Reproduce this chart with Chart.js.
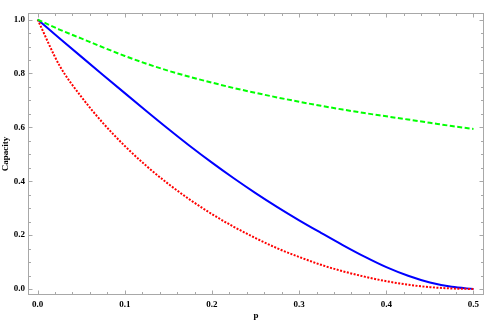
<!DOCTYPE html>
<html>
<head>
<meta charset="utf-8">
<script src="https://cdn.jsdelivr.net/npm/chart.js@4"></script>
<style>
  html, body { margin: 0; padding: 0; background: #fff; }
  #wrap { width: 498px; height: 322px; }
</style>
</head>
<body>
<div id="wrap"><canvas id="chart"></canvas></div>
<script>
// values
const P     = [0, 0.025, 0.05, 0.075, 0.1, 0.125, 0.15, 0.175, 0.2, 0.225, 0.25, 0.275, 0.3, 0.325, 0.35, 0.375, 0.4, 0.425, 0.45, 0.475, 0.5];
const BLUE  = [1, 0.931, 0.8625, 0.7945, 0.727, 0.66, 0.594, 0.53, 0.469, 0.411, 0.356, 0.304, 0.255, 0.2085, 0.163, 0.12, 0.081, 0.049, 0.024, 0.008, 0];
const RED   = [1, 0.83, 0.714, 0.616, 0.531, 0.456, 0.39, 0.331, 0.278, 0.231, 0.189, 0.151, 0.119, 0.09, 0.066, 0.046, 0.029, 0.016, 0.007, 0.002, 0];
const GREEN = [1, 0.963, 0.93, 0.897, 0.865, 0.836, 0.81, 0.787, 0.766, 0.746, 0.728, 0.711, 0.695, 0.68, 0.666, 0.653, 0.641, 0.629, 0.617, 0.605, 0.594];

const X_TICKS = [0, 0.1, 0.2, 0.3, 0.4, 0.5];
const Y_TICKS = [0, 0.2, 0.4, 0.6, 0.8, 1.0];

const pts = ys => P.map((p, i) => ({ x: p, y: ys[i] }));
const FONT = "'Liberation Serif', 'DejaVu Serif', serif";

// Mathematica-style frame with inward ticks on all four sides + axis labels
const framePlugin = {
    id: "frame",
    beforeDatasetsDraw(chart) {
        const { ctx, chartArea: a, scales: { x, y } } = chart;
        const L = Math.round(a.left) - 0.5, R = Math.round(a.right) + 0.5;
        const T = Math.round(a.top) - 0.5, B = Math.round(a.bottom) + 0.5;
        ctx.save();
        ctx.strokeStyle = "#a8a8a8";
        ctx.lineWidth = 1;
        ctx.strokeRect(L, T, R - L, B - T);
        ctx.beginPath();
        for (let i = 0; i <= 25; i++) {
            const v = i * 0.02;
            const len = (i % 5 === 0) ? 4 : 2.5;
            const px = Math.round(x.getPixelForValue(v)) + 0.5;
            ctx.moveTo(px, B); ctx.lineTo(px, B - len);
            ctx.moveTo(px, T); ctx.lineTo(px, T + len);
        }
        for (let i = 0; i <= 20; i++) {
            const v = i * 0.05;
            const len = (i % 4 === 0) ? 4 : 2.5;
            const py = Math.round(y.getPixelForValue(v)) + 0.5;
            ctx.moveTo(L, py); ctx.lineTo(L + len, py);
            ctx.moveTo(R, py); ctx.lineTo(R - len, py);
        }
        ctx.stroke();

        ctx.fillStyle = "#000";
        ctx.font = "bold 9px " + FONT;
        ctx.textAlign = "center";
        ctx.textBaseline = "middle";
        ctx.fillText("p", (a.left + a.right) / 2, 316);
        ctx.translate(6, (a.top + a.bottom) / 2);
        ctx.rotate(-Math.PI / 2);
        ctx.fillText("Capacity", 0, 0);
        ctx.restore();
    },
};

const line = (label, data, color, dash) => ({
    label, data,
    borderColor: color,
    backgroundColor: color,
    borderWidth: 2,
    borderDash: dash,
    pointRadius: 0,
    fill: false,
    cubicInterpolationMode: "monotone",
});

new Chart(document.getElementById("chart"), {
    type: "line",
    data: {
        datasets: [
            line("green", pts(GREEN), "#00ff00", [5, 2.5]),
            line("red",   pts(RED),   "#ff0000", [2, 1.5]),
            line("blue",  pts(BLUE),  "#0000ff", []),
        ],
    },
    options: {
        responsive: true,
        maintainAspectRatio: false,
        animation: false,
        layout: { padding: { top: 14, right: 15, left: 0, bottom: 0 } },
        plugins: { legend: { display: false }, tooltip: { enabled: false } },
        scales: {
            x: {
                type: "linear",
                min: -0.0099, max: 0.5109,
                border: { display: false },
                grid: { display: false, drawTicks: false },
                afterBuildTicks: s => { s.ticks = X_TICKS.map(v => ({ value: v })); },
                afterFit: s => { s.height = 28; },
                ticks: {
                    padding: 5,
                    color: "#000",
                    font: { family: FONT, size: 9, weight: "bold" },
                    maxRotation: 0,
                    callback: v => v.toFixed(1),
                },
            },
            y: {
                type: "linear",
                min: -0.0185, max: 1.0207,
                border: { display: false },
                grid: { display: false, drawTicks: false },
                afterBuildTicks: s => { s.ticks = Y_TICKS.map(v => ({ value: v })); },
                afterFit: s => { s.width = 29; },
                ticks: {
                    padding: 4,
                    color: "#000",
                    font: { family: FONT, size: 9, weight: "bold" },
                    callback: v => v.toFixed(1),
                },
            },
        },
    },
    plugins: [framePlugin],
});
</script>
</body>
</html>
